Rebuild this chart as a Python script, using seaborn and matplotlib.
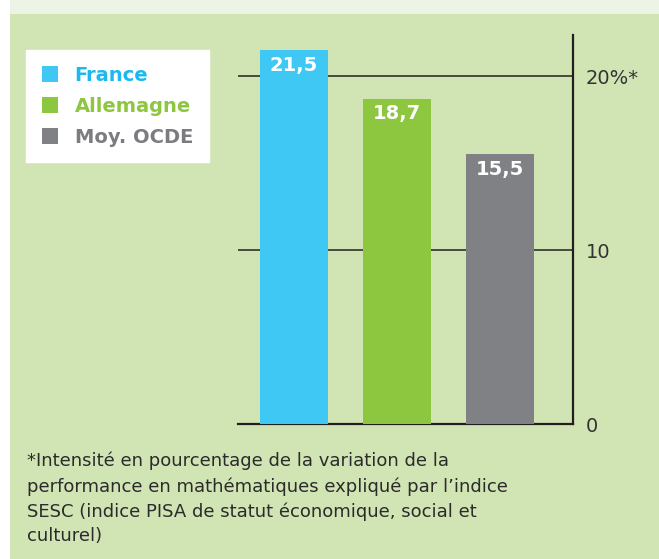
import matplotlib
matplotlib.use("Agg")
import matplotlib.pyplot as plt
import seaborn as sns
from matplotlib.patches import Patch, Rectangle

pays = ["France", "Allemagne", "Moy. OCDE"]
valeurs = [21.5, 18.7, 15.5]
etiquettes = ["21,5", "18,7", "15,5"]
couleurs = ["#40C8F4", "#8DC63F", "#808184"]
couleurs_texte = ["#1DB8EE", "#8DC63F", "#7B7C80"]
graduations = [0, 10, 20]
etiquettes_graduations = ["0", "10", "20%*"]
note = ("*Intensité en pourcentage de la variation de la\n"
        "performance en mathématiques expliqué par l\u2019indice\n"
        "SESC (indice PISA de statut économique, social et\n"
        "culturel)")

sns.set_theme(style="white")
plt.rcParams["font.family"] = ["DejaVu Sans"]

fond = "#D1E4B3"
trait = "#231F20"
W, H = 659, 559

fig = plt.figure(figsize=(W / 100, H / 100), dpi=100, facecolor=fond)
fig.patches.append(Rectangle((0, 1 - 14 / H), 1, 14 / H, transform=fig.transFigure,
                             facecolor="#EEF4E5", edgecolor="none", zorder=0))
fig.patches.append(Rectangle((0, 0), 10 / W, 1, transform=fig.transFigure,
                             facecolor="white", edgecolor="none", zorder=0))

ax = fig.add_axes([238 / W, 135 / H, (573 - 238) / W, (424 - 35) / H])
ax.set_facecolor("none")

sns.barplot(x=pays, y=valeurs, hue=pays, palette=couleurs, width=0.665,
            saturation=1, legend=False, linewidth=0, ax=ax, zorder=3)

ax.set_xlim(-0.543, 2.71)
ax.set_ylim(0, 22.36)

for i, (v, lab) in enumerate(zip(valeurs, etiquettes)):
    ax.annotate(lab, (i, v), xytext=(0, -11), textcoords="offset points",
                ha="center", va="center", color="white", fontsize=14,
                fontweight="bold", zorder=4)

for g in graduations[1:]:
    ax.axhline(g, color=trait, lw=1.1, zorder=2)

for s in ["top", "left"]:
    ax.spines[s].set_visible(False)
for s in ["right", "bottom"]:
    ax.spines[s].set_color(trait)
    ax.spines[s].set_linewidth(1.6)

ax.set_xticks([])
ax.yaxis.tick_right()
ax.set_yticks(graduations)
ax.set_yticklabels(etiquettes_graduations)
ax.tick_params(axis="y", length=0, pad=9, labelsize=14, labelcolor="#333333")
ax.set_xlabel("")
ax.set_ylabel("")

poignees = [Patch(facecolor=c, edgecolor="none") for c in couleurs]
leg = fig.legend(poignees, pays, loc="upper left",
                 bbox_to_anchor=(26 / W, 1 - 50 / H),
                 frameon=True, fancybox=False, framealpha=1,
                 facecolor="white", edgecolor="white",
                 handlelength=0.85, handleheight=0.85, handletextpad=0.85,
                 labelspacing=0.62, borderpad=0.8, borderaxespad=0,
                 prop={"size": 14, "weight": "bold"})
for t, c in zip(leg.get_texts(), couleurs_texte):
    t.set_color(c)

fig.text(27 / W, 1 - 452 / H, note, ha="left", va="top", fontsize=13,
         color="#2B2B2B", linespacing=1.45)

fig.savefig("out.png", dpi=100, facecolor=fond)
